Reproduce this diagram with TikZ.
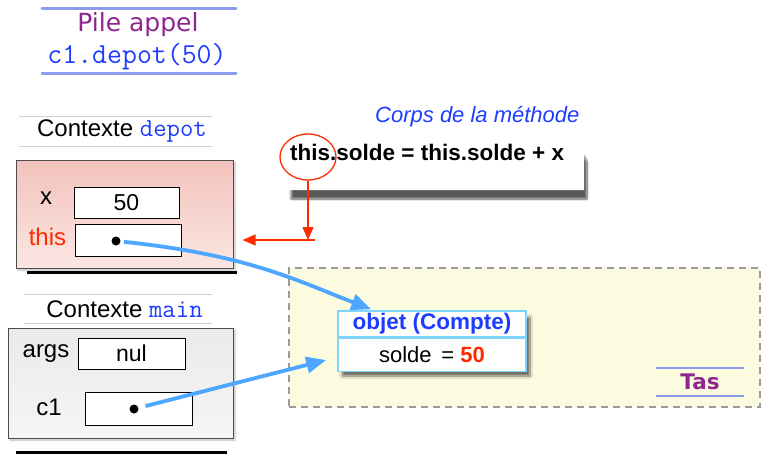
\documentclass[tikz,border=0pt]{standalone}
\usepackage{fontspec}
\setmainfont{Liberation Sans}
\newfontfamily\dejavu{DejaVu Sans}
\usetikzlibrary{arrows.meta,shadows,shadows.blur,shapes.geometric}

\definecolor{pilepurple}{RGB}{142,38,142}
\definecolor{ruleblue}{RGB}{140,155,238}
\definecolor{kwblue}{RGB}{30,60,255}
\definecolor{linkblue}{RGB}{77,166,255}
\definecolor{hotred}{RGB}{255,42,0}
\definecolor{pinkA}{RGB}{243,194,188}
\definecolor{pinkB}{RGB}{251,230,226}
\definecolor{heapfill}{RGB}{252,251,224}
\definecolor{heapedge}{RGB}{155,155,155}
\definecolor{objedge}{RGB}{127,212,255}

\newcommand\fsz[1]{\fontsize{#1}{#1}\selectfont}

\begin{document}
\begin{tikzpicture}[x=1pt,y=-1pt,
  titlerule/.style={draw=ruleblue,line width=3pt,line cap=round},
  ctxrule/.style={draw=black!18,line width=1pt},
  ctxlabel/.style={font=\fsz{24}},
  frame/.style={draw=black!70,line width=1pt,inner sep=0pt,
    blur shadow={shadow xshift=2pt,shadow yshift=-2pt,shadow opacity=25,shadow blur steps=5}},
  slot/.style={draw=black,fill=white,line width=1pt,inner sep=0pt,font=\fsz{23}},
  varname/.style={font=\fsz{24}},
  refdot/.style={circle,fill=black,inner sep=0pt,minimum size=9pt},
  link/.style={draw=linkblue,line width=3.8pt,shorten <=8pt,-{Triangle[length=20pt,width=16pt]}},
  redlink/.style={draw=hotred,line width=1.3pt,-{Triangle[length=13pt,width=11pt]}},
  stackbar/.style={draw=black,line width=3pt},
  objcell/.style={draw=objedge,fill=white,line width=1.5pt,inner sep=0pt,minimum width=188pt},
]
\useasboundingbox (0,0) rectangle (761,453);

% ---- call stack heading
\draw[titlerule] (42,8) -- (236,8);
\draw[titlerule] (42,73) -- (236,73);
\node[text=pilepurple,font=\dejavu\fsz{25}] (piletitle) at (138,25) {Pile appel};
\node[text=kwblue,font=\ttfamily\fsz{29}] (callexpr) at (137,57) {c1.depot(50)};

% ---- frame of depot
\draw[ctxrule] (19,116) -- (212,116);
\draw[ctxrule] (19,146) -- (212,146);
\node[ctxlabel] (depotlabel) at (122,131) {Contexte {\color{kwblue}\ttfamily\fsz{26}depot}};
\node[frame,top color=pinkA,bottom color=pinkB,minimum width=217pt,minimum height=108pt] (depot) at (124.5,214) {};
\draw[stackbar] (27,272) -- (237,272);
\node[varname] (xname) at (46,198) {x};
\node[slot,minimum width=105pt,minimum height=31pt] (xslot) at (126.5,202.5) {50};
\node[varname,text=hotred] (thisname) at (47.5,237) {this};
\node[slot,minimum width=106pt,minimum height=32pt] (thisslot) at (128,240) {};
\node[refdot] (thisdot) at (116,241) {};

% ---- frame of main
\draw[ctxrule] (24,294) -- (212,294);
\draw[ctxrule] (24,323) -- (212,323);
\node[ctxlabel] (mainlabel) at (124.5,309) {Contexte {\color{kwblue}\ttfamily\fsz{26}main}};
\node[frame,top color=black!8,bottom color=black!4,minimum width=225pt,minimum height=110pt] (main) at (120.5,383) {};
\draw[stackbar] (16,452) -- (227,452);
\node[varname] (argsname) at (46,354) {args};
\node[slot,minimum width=107pt,minimum height=31pt] (argsslot) at (131.5,353.5) {nul};
\node[varname] (c1name) at (49,407) {c1};
\node[slot,minimum width=107pt,minimum height=33pt] (c1slot) at (138.5,408.5) {};
\node[refdot] (c1dot) at (134,409) {};

% ---- method body
\node[text=kwblue,font=\itshape\fsz{22},anchor=east] (bodytitle) at (583,117) {Corps de la méthode};
\path[fill=white,blur shadow={shadow xshift=3pt,shadow yshift=-9pt,shadow opacity=65,shadow blur steps=10}]
  (288,142) -- (566,141) .. controls (576,141) and (582,146) .. (584,153) -- (584,190) -- (288,190) -- cycle;
\node[font=\bfseries\fsz{22.5},anchor=west,inner sep=0pt] (code) at (290,152) {this.solde = this.solde + x};
\node[ellipse,draw=hotred,line width=1.3pt,minimum width=56pt,minimum height=46pt,inner sep=0pt] (hilite) at (308,157) {};
\coordinate (hbar) at (315,240);
\draw[redlink] (hilite.south) -- (hilite.south |- hbar);
\draw[redlink] (hbar) -- ([xshift=9pt]depot.east |- hbar);

% ---- heap
\node[draw=heapedge,fill=heapfill,dashed,dash pattern=on 7pt off 5pt,line width=1.2pt,
  minimum width=471pt,minimum height=139pt,inner sep=0pt] (heap) at (524.5,337.5) {};
\draw[draw=ruleblue,line width=2pt] (656,368) -- (744,368);
\draw[draw=ruleblue,line width=2pt] (656,396) -- (744,396);
\node[text=pilepurple,font=\dejavu\bfseries\fsz{21.5}] (heaptitle) at (700,382) {Tas};

% ---- object in the heap
\path[fill=white,blur shadow={shadow xshift=4pt,shadow yshift=-6pt,shadow opacity=55,shadow blur steps=10}]
  (338,311) rectangle (526,370);
\node[objcell,minimum height=26pt,text=kwblue,font=\bfseries\fsz{22.5}] (objhead) at (432,324) {objet (Compte)};
\node[objcell,minimum height=33pt,font=\fsz{22},anchor=north] (objbody) at (objhead.south) {solde \,= {\color{hotred}\bfseries 50}};
\coordinate (objtop) at ([xshift=34pt,yshift=1pt]objhead.north west);
\coordinate (objleft) at ([xshift=-11pt,yshift=-5pt]objbody.west);

% ---- references
\draw[link] (thisdot.center) .. controls (250,255) and (300,282) .. (objtop);
\draw[link,shorten <=12pt] (c1dot.center) -- (objleft);
\end{tikzpicture}
\end{document}
